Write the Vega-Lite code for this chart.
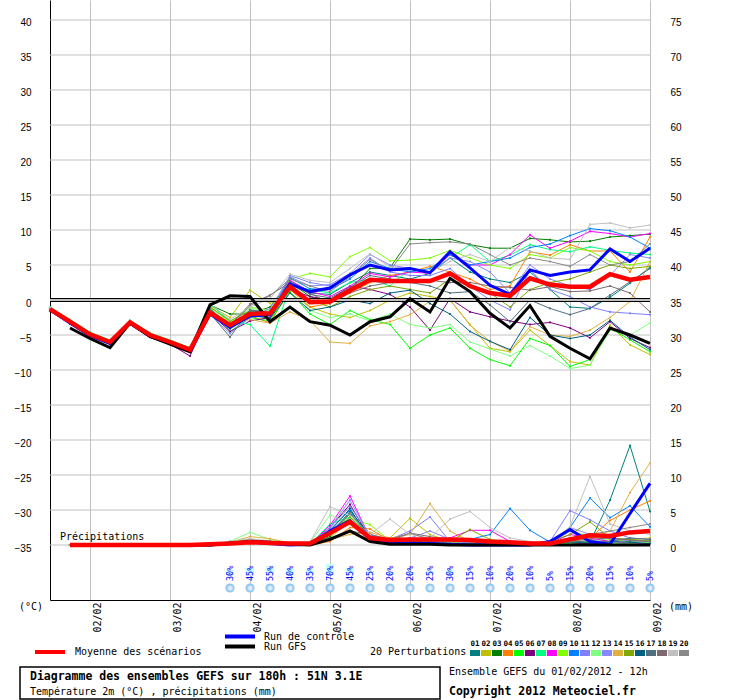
{
"$schema":"https://vega.github.io/schema/vega-lite/v6.json",
"width":600,"height":600,
"autosize":{"type":"none"},
"padding":{"left":50,"top":0,"right":90,"bottom":100},
"background":"white",
"config":{"view":{"stroke":null},"text":{"font":"DejaVu Sans Mono"}},
"datasets":{
"pert":[
{"s":"01","h":0,"t":-1.2,"p":null},{"s":"01","h":6,"t":-3.0,"p":0},{"s":"01","h":12,"t":-4.8,"p":0},{"s":"01","h":18,"t":-5.9,"p":0},{"s":"01","h":24,"t":-3.1,"p":0},{"s":"01","h":30,"t":-4.9,"p":0},{"s":"01","h":36,"t":-5.9,"p":0},{"s":"01","h":42,"t":-7.0,"p":0},{"s":"01","h":48,"t":-1.2,"p":0},{"s":"01","h":54,"t":-3.8,"p":0.3},{"s":"01","h":60,"t":-1.5,"p":0.5},{"s":"01","h":66,"t":-1.8,"p":0.3},{"s":"01","h":72,"t":2.8,"p":0.1},{"s":"01","h":78,"t":1.0,"p":0.2},{"s":"01","h":84,"t":0.8,"p":1.5},{"s":"01","h":90,"t":2.5,"p":4.8},{"s":"01","h":96,"t":4.0,"p":1.5},{"s":"01","h":102,"t":3.5,"p":0.5},{"s":"01","h":108,"t":3.0,"p":0.8},{"s":"01","h":114,"t":3.8,"p":0.5},{"s":"01","h":120,"t":6.0,"p":0.3},{"s":"01","h":126,"t":4.0,"p":0.2},{"s":"01","h":132,"t":3.0,"p":0.1},{"s":"01","h":138,"t":2.5,"p":0.1},{"s":"01","h":144,"t":4.0,"p":0.2},{"s":"01","h":150,"t":1.5,"p":0.3},{"s":"01","h":156,"t":-1.0,"p":0.5},{"s":"01","h":162,"t":-1.2,"p":0.4},{"s":"01","h":168,"t":0.4,"p":6.4},{"s":"01","h":174,"t":2.4,"p":14.2},{"s":"01","h":180,"t":4.7,"p":4.8},
{"s":"02","h":0,"t":-1.4,"p":null},{"s":"02","h":6,"t":-3.2,"p":0},{"s":"02","h":12,"t":-5.0,"p":0},{"s":"02","h":18,"t":-6.1,"p":0},{"s":"02","h":24,"t":-3.3,"p":0},{"s":"02","h":30,"t":-5.1,"p":0},{"s":"02","h":36,"t":-6.1,"p":0},{"s":"02","h":42,"t":-7.2,"p":0},{"s":"02","h":48,"t":-0.8,"p":0},{"s":"02","h":54,"t":-2.5,"p":0.4},{"s":"02","h":60,"t":1.4,"p":0.8},{"s":"02","h":66,"t":-0.5,"p":0.5},{"s":"02","h":72,"t":1.0,"p":0.2},{"s":"02","h":78,"t":-1.0,"p":0.1},{"s":"02","h":84,"t":-2.0,"p":1.0},{"s":"02","h":90,"t":-2.5,"p":3.5},{"s":"02","h":96,"t":-1.5,"p":0.8},{"s":"02","h":102,"t":0.0,"p":1.0},{"s":"02","h":108,"t":1.0,"p":3.8},{"s":"02","h":114,"t":0.5,"p":1.5},{"s":"02","h":120,"t":0.0,"p":0.5},{"s":"02","h":126,"t":-3.5,"p":0.3},{"s":"02","h":132,"t":-6.9,"p":0.2},{"s":"02","h":138,"t":-7.4,"p":0.0},{"s":"02","h":144,"t":-4.3,"p":0.1},{"s":"02","h":150,"t":-6.5,"p":0.2},{"s":"02","h":156,"t":-8.8,"p":0.5},{"s":"02","h":162,"t":-9.3,"p":0.3},{"s":"02","h":168,"t":-3.6,"p":0.5},{"s":"02","h":174,"t":-6.4,"p":0.8},{"s":"02","h":180,"t":-7.8,"p":1.0},
{"s":"03","h":0,"t":-1.1,"p":null},{"s":"03","h":6,"t":-2.9,"p":0},{"s":"03","h":12,"t":-4.7,"p":0},{"s":"03","h":18,"t":-5.8,"p":0},{"s":"03","h":24,"t":-3.0,"p":0},{"s":"03","h":30,"t":-4.8,"p":0},{"s":"03","h":36,"t":-5.8,"p":0},{"s":"03","h":42,"t":-6.9,"p":0},{"s":"03","h":48,"t":-0.7,"p":0},{"s":"03","h":54,"t":-2.0,"p":0.5},{"s":"03","h":60,"t":-2.0,"p":0.6},{"s":"03","h":66,"t":-1.0,"p":0.2},{"s":"03","h":72,"t":2.5,"p":0.0},{"s":"03","h":78,"t":0.5,"p":0.1},{"s":"03","h":84,"t":-0.5,"p":1.2},{"s":"03","h":90,"t":1.5,"p":4.5},{"s":"03","h":96,"t":4.5,"p":1.0},{"s":"03","h":102,"t":4.6,"p":0.3},{"s":"03","h":108,"t":8.7,"p":0.5},{"s":"03","h":114,"t":8.6,"p":0.4},{"s":"03","h":120,"t":8.7,"p":0.2},{"s":"03","h":126,"t":7.9,"p":0.1},{"s":"03","h":132,"t":7.4,"p":0.0},{"s":"03","h":138,"t":7.4,"p":0.0},{"s":"03","h":144,"t":8.8,"p":0.1},{"s":"03","h":150,"t":8.6,"p":0.1},{"s":"03","h":156,"t":8.3,"p":0.3},{"s":"03","h":162,"t":8.4,"p":0.2},{"s":"03","h":168,"t":9.0,"p":0.2},{"s":"03","h":174,"t":9.2,"p":0.5},{"s":"03","h":180,"t":9.4,"p":0.4},
{"s":"04","h":0,"t":-1.3,"p":null},{"s":"04","h":6,"t":-3.1,"p":0},{"s":"04","h":12,"t":-4.9,"p":0},{"s":"04","h":18,"t":-6.0,"p":0},{"s":"04","h":24,"t":-3.2,"p":0},{"s":"04","h":30,"t":-5.0,"p":0},{"s":"04","h":36,"t":-6.0,"p":0},{"s":"04","h":42,"t":-7.1,"p":0},{"s":"04","h":48,"t":-1.5,"p":0},{"s":"04","h":54,"t":-3.5,"p":0.3},{"s":"04","h":60,"t":-2.2,"p":0.8},{"s":"04","h":66,"t":-3.3,"p":0.4},{"s":"04","h":72,"t":1.5,"p":0.2},{"s":"04","h":78,"t":-1.0,"p":0.0},{"s":"04","h":84,"t":-0.5,"p":0.5},{"s":"04","h":90,"t":1.0,"p":2.5},{"s":"04","h":96,"t":2.5,"p":2.3},{"s":"04","h":102,"t":3.5,"p":0.6},{"s":"04","h":108,"t":4.0,"p":0.5},{"s":"04","h":114,"t":4.8,"p":0.3},{"s":"04","h":120,"t":4.0,"p":0.4},{"s":"04","h":126,"t":3.0,"p":0.2},{"s":"04","h":132,"t":1.5,"p":0.1},{"s":"04","h":138,"t":2.0,"p":0.0},{"s":"04","h":144,"t":6.9,"p":0.2},{"s":"04","h":150,"t":6.4,"p":0.5},{"s":"04","h":156,"t":7.9,"p":0.8},{"s":"04","h":162,"t":7.0,"p":1.0},{"s":"04","h":168,"t":7.0,"p":3.5},{"s":"04","h":174,"t":4.0,"p":5.0},{"s":"04","h":180,"t":9.0,"p":6.3},
{"s":"05","h":0,"t":-1.5,"p":null},{"s":"05","h":6,"t":-3.3,"p":0},{"s":"05","h":12,"t":-5.1,"p":0},{"s":"05","h":18,"t":-6.2,"p":0},{"s":"05","h":24,"t":-3.4,"p":0},{"s":"05","h":30,"t":-5.2,"p":0},{"s":"05","h":36,"t":-6.2,"p":0},{"s":"05","h":42,"t":-7.3,"p":0},{"s":"05","h":48,"t":-1.0,"p":0},{"s":"05","h":54,"t":-4.5,"p":0.2},{"s":"05","h":60,"t":-2.5,"p":0.5},{"s":"05","h":66,"t":-3.0,"p":0.3},{"s":"05","h":72,"t":1.2,"p":0.1},{"s":"05","h":78,"t":-2.0,"p":0.2},{"s":"05","h":84,"t":-3.5,"p":1.8},{"s":"05","h":90,"t":-1.5,"p":3.0},{"s":"05","h":96,"t":-2.8,"p":1.2},{"s":"05","h":102,"t":-3.5,"p":0.4},{"s":"05","h":108,"t":-6.9,"p":0.3},{"s":"05","h":114,"t":-5.0,"p":0.2},{"s":"05","h":120,"t":-4.0,"p":0.1},{"s":"05","h":126,"t":-6.9,"p":0.0},{"s":"05","h":132,"t":-8.5,"p":0.1},{"s":"05","h":138,"t":-9.4,"p":0.1},{"s":"05","h":144,"t":-5.5,"p":0.0},{"s":"05","h":150,"t":-6.5,"p":0.3},{"s":"05","h":156,"t":-9.5,"p":0.2},{"s":"05","h":162,"t":-8.5,"p":0.5},{"s":"05","h":168,"t":-4.0,"p":0.3},{"s":"05","h":174,"t":-5.7,"p":0.2},{"s":"05","h":180,"t":-7.4,"p":0.4},
{"s":"06","h":0,"t":-1.6,"p":null},{"s":"06","h":6,"t":-3.4,"p":0},{"s":"06","h":12,"t":-5.2,"p":0},{"s":"06","h":18,"t":-6.3,"p":0},{"s":"06","h":24,"t":-3.5,"p":0},{"s":"06","h":30,"t":-5.3,"p":0},{"s":"06","h":36,"t":-6.3,"p":0},{"s":"06","h":42,"t":-8.0,"p":0},{"s":"06","h":48,"t":-1.8,"p":0},{"s":"06","h":54,"t":-4.5,"p":0.1},{"s":"06","h":60,"t":-3.0,"p":0.3},{"s":"06","h":66,"t":-2.5,"p":0.2},{"s":"06","h":72,"t":1.5,"p":0.0},{"s":"06","h":78,"t":0.5,"p":0.0},{"s":"06","h":84,"t":0.0,"p":2.5},{"s":"06","h":90,"t":2.0,"p":5.8},{"s":"06","h":96,"t":1.5,"p":0.9},{"s":"06","h":102,"t":0.8,"p":0.4},{"s":"06","h":108,"t":-1.0,"p":0.2},{"s":"06","h":114,"t":-4.3,"p":0.3},{"s":"06","h":120,"t":0.2,"p":0.1},{"s":"06","h":126,"t":-1.7,"p":0.1},{"s":"06","h":132,"t":-2.4,"p":0.0},{"s":"06","h":138,"t":-3.0,"p":0.0},{"s":"06","h":144,"t":-3.5,"p":0.1},{"s":"06","h":150,"t":-3.2,"p":0.4},{"s":"06","h":156,"t":-4.0,"p":0.3},{"s":"06","h":162,"t":-5.4,"p":0.2},{"s":"06","h":168,"t":-3.1,"p":0.1},{"s":"06","h":174,"t":-5.5,"p":0.3},{"s":"06","h":180,"t":-6.8,"p":0.5},
{"s":"07","h":0,"t":-1.0,"p":null},{"s":"07","h":6,"t":-2.8,"p":0},{"s":"07","h":12,"t":-4.6,"p":0},{"s":"07","h":18,"t":-5.7,"p":0},{"s":"07","h":24,"t":-2.9,"p":0},{"s":"07","h":30,"t":-4.7,"p":0},{"s":"07","h":36,"t":-5.7,"p":0},{"s":"07","h":42,"t":-6.8,"p":0},{"s":"07","h":48,"t":-0.6,"p":0},{"s":"07","h":54,"t":-3.0,"p":0.2},{"s":"07","h":60,"t":-3.5,"p":0.4},{"s":"07","h":66,"t":-6.6,"p":0.3},{"s":"07","h":72,"t":2.0,"p":0.1},{"s":"07","h":78,"t":1.5,"p":0.1},{"s":"07","h":84,"t":1.0,"p":3.0},{"s":"07","h":90,"t":2.5,"p":4.0},{"s":"07","h":96,"t":3.0,"p":1.3},{"s":"07","h":102,"t":2.0,"p":0.5},{"s":"07","h":108,"t":4.5,"p":0.4},{"s":"07","h":114,"t":4.0,"p":0.2},{"s":"07","h":120,"t":6.0,"p":0.2},{"s":"07","h":126,"t":7.9,"p":0.1},{"s":"07","h":132,"t":5.5,"p":0.0},{"s":"07","h":138,"t":6.4,"p":0.0},{"s":"07","h":144,"t":7.9,"p":0.1},{"s":"07","h":150,"t":7.2,"p":0.2},{"s":"07","h":156,"t":6.9,"p":0.4},{"s":"07","h":162,"t":7.6,"p":1.5},{"s":"07","h":168,"t":7.1,"p":0.4},{"s":"07","h":174,"t":6.7,"p":0.3},{"s":"07","h":180,"t":6.5,"p":0.2},
{"s":"08","h":0,"t":-1.4,"p":null},{"s":"08","h":6,"t":-3.2,"p":0},{"s":"08","h":12,"t":-5.0,"p":0},{"s":"08","h":18,"t":-6.1,"p":0},{"s":"08","h":24,"t":-3.3,"p":0},{"s":"08","h":30,"t":-5.1,"p":0},{"s":"08","h":36,"t":-6.1,"p":0},{"s":"08","h":42,"t":-7.2,"p":0},{"s":"08","h":48,"t":-1.4,"p":0},{"s":"08","h":54,"t":-4.0,"p":0.3},{"s":"08","h":60,"t":-1.8,"p":0.5},{"s":"08","h":66,"t":-2.2,"p":0.4},{"s":"08","h":72,"t":2.8,"p":0.0},{"s":"08","h":78,"t":1.2,"p":0.1},{"s":"08","h":84,"t":0.5,"p":2.8},{"s":"08","h":90,"t":2.0,"p":7.0},{"s":"08","h":96,"t":3.8,"p":1.0},{"s":"08","h":102,"t":3.3,"p":0.5},{"s":"08","h":108,"t":4.0,"p":0.4},{"s":"08","h":114,"t":3.8,"p":0.3},{"s":"08","h":120,"t":6.5,"p":1.0},{"s":"08","h":126,"t":5.0,"p":2.1},{"s":"08","h":132,"t":5.0,"p":2.1},{"s":"08","h":138,"t":6.5,"p":0.5},{"s":"08","h":144,"t":9.3,"p":0.2},{"s":"08","h":150,"t":7.4,"p":0.3},{"s":"08","h":156,"t":8.4,"p":1.5},{"s":"08","h":162,"t":9.8,"p":1.0},{"s":"08","h":168,"t":9.5,"p":0.5},{"s":"08","h":174,"t":9.0,"p":0.3},{"s":"08","h":180,"t":9.5,"p":0.2},
{"s":"09","h":0,"t":-1.2,"p":null},{"s":"09","h":6,"t":-3.0,"p":0},{"s":"09","h":12,"t":-4.8,"p":0},{"s":"09","h":18,"t":-5.9,"p":0},{"s":"09","h":24,"t":-3.1,"p":0},{"s":"09","h":30,"t":-4.9,"p":0},{"s":"09","h":36,"t":-5.9,"p":0},{"s":"09","h":42,"t":-7.0,"p":0},{"s":"09","h":48,"t":-0.9,"p":0},{"s":"09","h":54,"t":-3.2,"p":0.4},{"s":"09","h":60,"t":-1.0,"p":0.7},{"s":"09","h":66,"t":-1.5,"p":0.3},{"s":"09","h":72,"t":3.0,"p":0.1},{"s":"09","h":78,"t":3.8,"p":0.2},{"s":"09","h":84,"t":3.3,"p":2.0},{"s":"09","h":90,"t":6.2,"p":3.8},{"s":"09","h":96,"t":7.5,"p":2.9},{"s":"09","h":102,"t":5.6,"p":0.6},{"s":"09","h":108,"t":5.7,"p":0.5},{"s":"09","h":114,"t":6.0,"p":0.3},{"s":"09","h":120,"t":7.1,"p":0.2},{"s":"09","h":126,"t":6.0,"p":0.4},{"s":"09","h":132,"t":5.0,"p":0.3},{"s":"09","h":138,"t":4.5,"p":0.1},{"s":"09","h":144,"t":6.5,"p":0.3},{"s":"09","h":150,"t":6.0,"p":0.4},{"s":"09","h":156,"t":7.5,"p":2.0},{"s":"09","h":162,"t":7.0,"p":1.2},{"s":"09","h":168,"t":5.5,"p":0.8},{"s":"09","h":174,"t":5.0,"p":0.6},{"s":"09","h":180,"t":5.5,"p":0.5},
{"s":"10","h":0,"t":-1.3,"p":null},{"s":"10","h":6,"t":-3.1,"p":0},{"s":"10","h":12,"t":-4.9,"p":0},{"s":"10","h":18,"t":-6.0,"p":0},{"s":"10","h":24,"t":-3.2,"p":0},{"s":"10","h":30,"t":-5.0,"p":0},{"s":"10","h":36,"t":-6.0,"p":0},{"s":"10","h":42,"t":-7.1,"p":0},{"s":"10","h":48,"t":-1.3,"p":0},{"s":"10","h":54,"t":-3.7,"p":0.2},{"s":"10","h":60,"t":-1.6,"p":0.4},{"s":"10","h":66,"t":-1.9,"p":0.3},{"s":"10","h":72,"t":3.2,"p":0.0},{"s":"10","h":78,"t":1.6,"p":0.1},{"s":"10","h":84,"t":1.5,"p":2.2},{"s":"10","h":90,"t":3.0,"p":5.0},{"s":"10","h":96,"t":5.5,"p":1.1},{"s":"10","h":102,"t":4.5,"p":0.4},{"s":"10","h":108,"t":4.0,"p":0.6},{"s":"10","h":114,"t":4.5,"p":0.3},{"s":"10","h":120,"t":6.5,"p":0.5},{"s":"10","h":126,"t":5.0,"p":0.8},{"s":"10","h":132,"t":5.5,"p":1.5},{"s":"10","h":138,"t":6.0,"p":5.2},{"s":"10","h":144,"t":7.5,"p":2.1},{"s":"10","h":150,"t":8.0,"p":0.4},{"s":"10","h":156,"t":9.2,"p":2.5},{"s":"10","h":162,"t":10.2,"p":6.7},{"s":"10","h":168,"t":9.9,"p":3.9},{"s":"10","h":174,"t":9.0,"p":5.6},{"s":"10","h":180,"t":7.4,"p":2.6},
{"s":"11","h":0,"t":-1.5,"p":null},{"s":"11","h":6,"t":-3.3,"p":0},{"s":"11","h":12,"t":-5.1,"p":0},{"s":"11","h":18,"t":-6.2,"p":0},{"s":"11","h":24,"t":-3.4,"p":0},{"s":"11","h":30,"t":-5.2,"p":0},{"s":"11","h":36,"t":-6.2,"p":0},{"s":"11","h":42,"t":-7.3,"p":0},{"s":"11","h":48,"t":-1.6,"p":0},{"s":"11","h":54,"t":-4.2,"p":0.3},{"s":"11","h":60,"t":-2.0,"p":0.6},{"s":"11","h":66,"t":-2.0,"p":0.5},{"s":"11","h":72,"t":3.5,"p":0.1},{"s":"11","h":78,"t":2.5,"p":0.2},{"s":"11","h":84,"t":2.0,"p":2.5},{"s":"11","h":90,"t":3.5,"p":5.5},{"s":"11","h":96,"t":6.0,"p":1.5},{"s":"11","h":102,"t":4.0,"p":0.8},{"s":"11","h":108,"t":3.5,"p":2.0},{"s":"11","h":114,"t":3.5,"p":4.0},{"s":"11","h":120,"t":4.5,"p":0.5},{"s":"11","h":126,"t":2.0,"p":0.3},{"s":"11","h":132,"t":0.0,"p":0.2},{"s":"11","h":138,"t":-1.4,"p":0.1},{"s":"11","h":144,"t":4.3,"p":0.2},{"s":"11","h":150,"t":1.5,"p":0.5},{"s":"11","h":156,"t":0.5,"p":4.9},{"s":"11","h":162,"t":-1.0,"p":3.6},{"s":"11","h":168,"t":-1.7,"p":2.0},{"s":"11","h":174,"t":-1.9,"p":1.0},{"s":"11","h":180,"t":-2.1,"p":0.8},
{"s":"12","h":0,"t":-1.1,"p":null},{"s":"12","h":6,"t":-2.9,"p":0},{"s":"12","h":12,"t":-4.7,"p":0},{"s":"12","h":18,"t":-5.8,"p":0},{"s":"12","h":24,"t":-3.0,"p":0},{"s":"12","h":30,"t":-4.8,"p":0},{"s":"12","h":36,"t":-5.8,"p":0},{"s":"12","h":42,"t":-6.9,"p":0},{"s":"12","h":48,"t":-1.1,"p":0},{"s":"12","h":54,"t":-3.3,"p":0.5},{"s":"12","h":60,"t":-1.2,"p":1.8},{"s":"12","h":66,"t":-1.5,"p":0.8},{"s":"12","h":72,"t":2.2,"p":0.1},{"s":"12","h":78,"t":-1.5,"p":0.3},{"s":"12","h":84,"t":-2.5,"p":4.3},{"s":"12","h":90,"t":-2.0,"p":3.0},{"s":"12","h":96,"t":-3.0,"p":1.0},{"s":"12","h":102,"t":-2.0,"p":0.3},{"s":"12","h":108,"t":-3.5,"p":0.4},{"s":"12","h":114,"t":-4.0,"p":0.2},{"s":"12","h":120,"t":-3.5,"p":0.3},{"s":"12","h":126,"t":-6.0,"p":0.1},{"s":"12","h":132,"t":-7.0,"p":0.0},{"s":"12","h":138,"t":-8.0,"p":0.0},{"s":"12","h":144,"t":-6.5,"p":0.1},{"s":"12","h":150,"t":-8.0,"p":0.2},{"s":"12","h":156,"t":-9.8,"p":0.3},{"s":"12","h":162,"t":-9.3,"p":0.5},{"s":"12","h":168,"t":-4.3,"p":0.2},{"s":"12","h":174,"t":-5.0,"p":0.3},{"s":"12","h":180,"t":-3.3,"p":0.4},
{"s":"13","h":0,"t":-1.4,"p":null},{"s":"13","h":6,"t":-3.2,"p":0},{"s":"13","h":12,"t":-5.0,"p":0},{"s":"13","h":18,"t":-6.1,"p":0},{"s":"13","h":24,"t":-3.3,"p":0},{"s":"13","h":30,"t":-5.1,"p":0},{"s":"13","h":36,"t":-6.1,"p":0},{"s":"13","h":42,"t":-7.2,"p":0},{"s":"13","h":48,"t":-2.0,"p":0},{"s":"13","h":54,"t":-4.8,"p":0.2},{"s":"13","h":60,"t":-2.5,"p":0.5},{"s":"13","h":66,"t":-1.2,"p":0.4},{"s":"13","h":72,"t":3.3,"p":0.0},{"s":"13","h":78,"t":2.0,"p":0.1},{"s":"13","h":84,"t":2.2,"p":2.5},{"s":"13","h":90,"t":3.8,"p":6.4},{"s":"13","h":96,"t":6.5,"p":1.2},{"s":"13","h":102,"t":5.0,"p":0.5},{"s":"13","h":108,"t":4.5,"p":1.0},{"s":"13","h":114,"t":4.0,"p":2.0},{"s":"13","h":120,"t":6.0,"p":0.8},{"s":"13","h":126,"t":5.5,"p":0.4},{"s":"13","h":132,"t":4.0,"p":0.3},{"s":"13","h":138,"t":1.0,"p":0.2},{"s":"13","h":144,"t":5.0,"p":0.2},{"s":"13","h":150,"t":3.0,"p":0.4},{"s":"13","h":156,"t":2.0,"p":2.5},{"s":"13","h":162,"t":1.5,"p":1.5},{"s":"13","h":168,"t":3.5,"p":0.9},{"s":"13","h":174,"t":6.5,"p":0.6},{"s":"13","h":180,"t":6.0,"p":0.5},
{"s":"14","h":0,"t":-1.2,"p":null},{"s":"14","h":6,"t":-3.0,"p":0},{"s":"14","h":12,"t":-4.8,"p":0},{"s":"14","h":18,"t":-5.9,"p":0},{"s":"14","h":24,"t":-3.1,"p":0},{"s":"14","h":30,"t":-4.9,"p":0},{"s":"14","h":36,"t":-5.9,"p":0},{"s":"14","h":42,"t":-7.0,"p":0},{"s":"14","h":48,"t":-2.2,"p":0},{"s":"14","h":54,"t":-3.4,"p":0.4},{"s":"14","h":60,"t":-2.8,"p":1.2},{"s":"14","h":66,"t":-3.3,"p":0.9},{"s":"14","h":72,"t":-1.7,"p":0.3},{"s":"14","h":78,"t":-2.9,"p":0.1},{"s":"14","h":84,"t":-6.0,"p":0.8},{"s":"14","h":90,"t":-6.2,"p":1.5},{"s":"14","h":96,"t":-3.7,"p":1.8},{"s":"14","h":102,"t":-3.1,"p":1.0},{"s":"14","h":108,"t":-2.1,"p":1.5},{"s":"14","h":114,"t":-0.2,"p":5.9},{"s":"14","h":120,"t":0.0,"p":2.0},{"s":"14","h":126,"t":-3.6,"p":0.5},{"s":"14","h":132,"t":-5.9,"p":0.3},{"s":"14","h":138,"t":-7.3,"p":0.2},{"s":"14","h":144,"t":-3.8,"p":0.1},{"s":"14","h":150,"t":-5.0,"p":0.2},{"s":"14","h":156,"t":-5.2,"p":0.5},{"s":"14","h":162,"t":-4.3,"p":1.0},{"s":"14","h":168,"t":-2.5,"p":2.0},{"s":"14","h":174,"t":-0.2,"p":7.5},{"s":"14","h":180,"t":5.5,"p":11.7},
{"s":"15","h":0,"t":-1.3,"p":null},{"s":"15","h":6,"t":-3.1,"p":0},{"s":"15","h":12,"t":-4.9,"p":0},{"s":"15","h":18,"t":-6.0,"p":0},{"s":"15","h":24,"t":-3.2,"p":0},{"s":"15","h":30,"t":-5.0,"p":0},{"s":"15","h":36,"t":-6.0,"p":0},{"s":"15","h":42,"t":-7.1,"p":0},{"s":"15","h":48,"t":-1.0,"p":0},{"s":"15","h":54,"t":-3.0,"p":0.3},{"s":"15","h":60,"t":-1.5,"p":0.5},{"s":"15","h":66,"t":-2.8,"p":0.3},{"s":"15","h":72,"t":2.0,"p":0.1},{"s":"15","h":78,"t":0.0,"p":0.1},{"s":"15","h":84,"t":-1.0,"p":1.5},{"s":"15","h":90,"t":0.5,"p":4.0},{"s":"15","h":96,"t":1.5,"p":1.0},{"s":"15","h":102,"t":2.0,"p":0.4},{"s":"15","h":108,"t":1.5,"p":0.5},{"s":"15","h":114,"t":1.0,"p":0.3},{"s":"15","h":120,"t":3.0,"p":0.5},{"s":"15","h":126,"t":2.0,"p":2.2},{"s":"15","h":132,"t":1.0,"p":0.8},{"s":"15","h":138,"t":-1.0,"p":0.3},{"s":"15","h":144,"t":1.5,"p":0.2},{"s":"15","h":150,"t":2.5,"p":0.5},{"s":"15","h":156,"t":3.0,"p":1.5},{"s":"15","h":162,"t":4.0,"p":3.3},{"s":"15","h":168,"t":5.0,"p":1.0},{"s":"15","h":174,"t":4.5,"p":0.8},{"s":"15","h":180,"t":4.8,"p":0.6},
{"s":"16","h":0,"t":-1.5,"p":null},{"s":"16","h":6,"t":-3.3,"p":0},{"s":"16","h":12,"t":-5.1,"p":0},{"s":"16","h":18,"t":-6.2,"p":0},{"s":"16","h":24,"t":-3.4,"p":0},{"s":"16","h":30,"t":-5.2,"p":0},{"s":"16","h":36,"t":-6.2,"p":0},{"s":"16","h":42,"t":-7.3,"p":0},{"s":"16","h":48,"t":-1.7,"p":0},{"s":"16","h":54,"t":-4.0,"p":0.2},{"s":"16","h":60,"t":-2.2,"p":0.4},{"s":"16","h":66,"t":-2.6,"p":0.2},{"s":"16","h":72,"t":1.0,"p":0.0},{"s":"16","h":78,"t":-1.5,"p":0.1},{"s":"16","h":84,"t":-1.0,"p":2.0},{"s":"16","h":90,"t":0.0,"p":5.2},{"s":"16","h":96,"t":-0.5,"p":0.8},{"s":"16","h":102,"t":1.0,"p":0.3},{"s":"16","h":108,"t":1.4,"p":0.3},{"s":"16","h":114,"t":-0.5,"p":0.2},{"s":"16","h":120,"t":-2.0,"p":0.1},{"s":"16","h":126,"t":-4.5,"p":0.1},{"s":"16","h":132,"t":-5.9,"p":0.0},{"s":"16","h":138,"t":-7.1,"p":0.1},{"s":"16","h":144,"t":-2.5,"p":0.0},{"s":"16","h":150,"t":-5.0,"p":0.2},{"s":"16","h":156,"t":-5.5,"p":0.4},{"s":"16","h":162,"t":-5.0,"p":0.3},{"s":"16","h":168,"t":-2.9,"p":0.5},{"s":"16","h":174,"t":-5.3,"p":0.4},{"s":"16","h":180,"t":-7.1,"p":0.2},
{"s":"17","h":0,"t":-1.6,"p":null},{"s":"17","h":6,"t":-3.4,"p":0},{"s":"17","h":12,"t":-5.2,"p":0},{"s":"17","h":18,"t":-6.3,"p":0},{"s":"17","h":24,"t":-3.5,"p":0},{"s":"17","h":30,"t":-5.3,"p":0},{"s":"17","h":36,"t":-6.3,"p":0},{"s":"17","h":42,"t":-7.4,"p":0},{"s":"17","h":48,"t":-1.9,"p":0},{"s":"17","h":54,"t":-5.3,"p":0.3},{"s":"17","h":60,"t":-1.4,"p":0.6},{"s":"17","h":66,"t":-1.8,"p":0.4},{"s":"17","h":72,"t":2.6,"p":0.1},{"s":"17","h":78,"t":0.8,"p":0.1},{"s":"17","h":84,"t":0.3,"p":1.8},{"s":"17","h":90,"t":1.8,"p":4.6},{"s":"17","h":96,"t":3.5,"p":1.1},{"s":"17","h":102,"t":3.0,"p":0.5},{"s":"17","h":108,"t":2.5,"p":0.4},{"s":"17","h":114,"t":2.0,"p":0.3},{"s":"17","h":120,"t":1.0,"p":0.2},{"s":"17","h":126,"t":1.2,"p":0.1},{"s":"17","h":132,"t":-0.7,"p":0.1},{"s":"17","h":138,"t":-3.1,"p":0.0},{"s":"17","h":144,"t":0.0,"p":0.1},{"s":"17","h":150,"t":-1.2,"p":0.3},{"s":"17","h":156,"t":-2.1,"p":0.4},{"s":"17","h":162,"t":-1.2,"p":0.6},{"s":"17","h":168,"t":0.7,"p":0.5},{"s":"17","h":174,"t":2.6,"p":1.0},{"s":"17","h":180,"t":4.5,"p":0.8},
{"s":"18","h":0,"t":-1.2,"p":null},{"s":"18","h":6,"t":-3.0,"p":0},{"s":"18","h":12,"t":-4.8,"p":0},{"s":"18","h":18,"t":-5.9,"p":0},{"s":"18","h":24,"t":-3.1,"p":0},{"s":"18","h":30,"t":-4.9,"p":0},{"s":"18","h":36,"t":-5.9,"p":0},{"s":"18","h":42,"t":-7.0,"p":0},{"s":"18","h":48,"t":-1.3,"p":0},{"s":"18","h":54,"t":-3.6,"p":0.4},{"s":"18","h":60,"t":-0.6,"p":0.8},{"s":"18","h":66,"t":0.7,"p":0.5},{"s":"18","h":72,"t":2.5,"p":0.1},{"s":"18","h":78,"t":1.0,"p":0.2},{"s":"18","h":84,"t":-0.5,"p":1.0},{"s":"18","h":90,"t":1.0,"p":2.0},{"s":"18","h":96,"t":2.0,"p":1.5},{"s":"18","h":102,"t":2.5,"p":0.8},{"s":"18","h":108,"t":3.0,"p":1.7},{"s":"18","h":114,"t":2.8,"p":1.2},{"s":"18","h":120,"t":2.5,"p":0.8},{"s":"18","h":126,"t":2.5,"p":0.6},{"s":"18","h":132,"t":2.0,"p":0.5},{"s":"18","h":138,"t":1.8,"p":0.3},{"s":"18","h":144,"t":1.4,"p":0.2},{"s":"18","h":150,"t":1.9,"p":0.3},{"s":"18","h":156,"t":1.2,"p":0.6},{"s":"18","h":162,"t":1.3,"p":0.8},{"s":"18","h":168,"t":2.0,"p":1.0},{"s":"18","h":174,"t":1.0,"p":0.7},{"s":"18","h":180,"t":-1.7,"p":0.5},
{"s":"19","h":0,"t":-1.1,"p":null},{"s":"19","h":6,"t":-2.9,"p":0},{"s":"19","h":12,"t":-4.7,"p":0},{"s":"19","h":18,"t":-5.8,"p":0},{"s":"19","h":24,"t":-3.0,"p":0},{"s":"19","h":30,"t":-4.8,"p":0},{"s":"19","h":36,"t":-5.8,"p":0},{"s":"19","h":42,"t":-6.9,"p":0},{"s":"19","h":48,"t":-0.5,"p":0},{"s":"19","h":54,"t":-2.8,"p":0.5},{"s":"19","h":60,"t":-1.0,"p":0.9},{"s":"19","h":66,"t":0.2,"p":0.6},{"s":"19","h":72,"t":3.7,"p":0.2},{"s":"19","h":78,"t":2.8,"p":0.4},{"s":"19","h":84,"t":2.5,"p":5.5},{"s":"19","h":90,"t":4.5,"p":4.2},{"s":"19","h":96,"t":6.6,"p":1.5},{"s":"19","h":102,"t":4.7,"p":3.7},{"s":"19","h":108,"t":4.5,"p":1.5},{"s":"19","h":114,"t":4.0,"p":1.0},{"s":"19","h":120,"t":5.5,"p":3.7},{"s":"19","h":126,"t":6.5,"p":4.8},{"s":"19","h":132,"t":5.5,"p":2.5},{"s":"19","h":138,"t":7.5,"p":1.0},{"s":"19","h":144,"t":7.0,"p":0.5},{"s":"19","h":150,"t":6.0,"p":0.3},{"s":"19","h":156,"t":5.8,"p":2.6},{"s":"19","h":162,"t":10.8,"p":9.8},{"s":"19","h":168,"t":11.0,"p":3.0},{"s":"19","h":174,"t":10.3,"p":2.0},{"s":"19","h":180,"t":10.7,"p":1.5},
{"s":"20","h":0,"t":-1.4,"p":null},{"s":"20","h":6,"t":-3.2,"p":0},{"s":"20","h":12,"t":-5.0,"p":0},{"s":"20","h":18,"t":-6.1,"p":0},{"s":"20","h":24,"t":-3.3,"p":0},{"s":"20","h":30,"t":-5.1,"p":0},{"s":"20","h":36,"t":-6.1,"p":0},{"s":"20","h":42,"t":-7.2,"p":0},{"s":"20","h":48,"t":-1.5,"p":0},{"s":"20","h":54,"t":-3.9,"p":0.3},{"s":"20","h":60,"t":-0.8,"p":0.6},{"s":"20","h":66,"t":0.6,"p":0.4},{"s":"20","h":72,"t":3.0,"p":0.1},{"s":"20","h":78,"t":2.0,"p":0.1},{"s":"20","h":84,"t":1.2,"p":1.5},{"s":"20","h":90,"t":3.3,"p":4.5},{"s":"20","h":96,"t":5.8,"p":1.3},{"s":"20","h":102,"t":4.2,"p":0.5},{"s":"20","h":108,"t":8.0,"p":1.7},{"s":"20","h":114,"t":8.2,"p":0.8},{"s":"20","h":120,"t":8.3,"p":0.6},{"s":"20","h":126,"t":8.0,"p":0.4},{"s":"20","h":132,"t":6.5,"p":0.3},{"s":"20","h":138,"t":5.0,"p":0.2},{"s":"20","h":144,"t":6.0,"p":0.1},{"s":"20","h":150,"t":5.5,"p":0.4},{"s":"20","h":156,"t":4.8,"p":1.0},{"s":"20","h":162,"t":6.5,"p":1.5},{"s":"20","h":168,"t":5.0,"p":2.0},{"s":"20","h":174,"t":5.5,"p":2.5},{"s":"20","h":180,"t":8.0,"p":3.0}
],
"ctrl":[
{"h":0,"t":-1.4,"p":null},{"h":6,"t":-3.3,"p":0},{"h":12,"t":-5.1,"p":0},{"h":18,"t":-6.2,"p":0},{"h":24,"t":-3.3,"p":0},{"h":30,"t":-5.2,"p":0},{"h":36,"t":-6.2,"p":0},{"h":42,"t":-7.3,"p":0},{"h":48,"t":-2.0,"p":0},{"h":54,"t":-3.9,"p":0.3},{"h":60,"t":-2.3,"p":0.4},{"h":66,"t":-2.1,"p":0.2},{"h":72,"t":2.3,"p":0.0},{"h":78,"t":1.2,"p":0.1},{"h":84,"t":1.7,"p":2.0},{"h":90,"t":3.6,"p":3.5},{"h":96,"t":5.0,"p":0.8},{"h":102,"t":4.3,"p":0.2},{"h":108,"t":4.5,"p":0.3},{"h":114,"t":3.9,"p":0.2},{"h":120,"t":6.9,"p":0.1},{"h":126,"t":4.6,"p":0.0},{"h":132,"t":2.1,"p":0.0},{"h":138,"t":0.8,"p":0.0},{"h":144,"t":4.3,"p":0.0},{"h":150,"t":3.5,"p":0.5},{"h":156,"t":4.0,"p":2.2},{"h":162,"t":4.3,"p":0.5},{"h":168,"t":7.3,"p":0.1},{"h":174,"t":5.5,"p":4.5},{"h":180,"t":7.4,"p":8.8}
],
"gfs":[
{"h":6,"t":-4.0,"p":0},{"h":12,"t":-5.5,"p":0},{"h":18,"t":-6.8,"p":0},{"h":24,"t":-3.3,"p":0},{"h":30,"t":-5.2,"p":0},{"h":36,"t":-6.3,"p":0},{"h":42,"t":-7.4,"p":0},{"h":48,"t":-0.7,"p":0},{"h":54,"t":0.6,"p":0.2},{"h":60,"t":0.5,"p":0.5},{"h":66,"t":-3.1,"p":0.4},{"h":72,"t":-1.0,"p":0.1},{"h":78,"t":-3.1,"p":0.0},{"h":84,"t":-3.6,"p":0.8},{"h":90,"t":-5.0,"p":2.0},{"h":96,"t":-3.1,"p":0.5},{"h":102,"t":-2.4,"p":0.1},{"h":108,"t":0.2,"p":0.1},{"h":114,"t":-1.7,"p":0.1},{"h":120,"t":3.1,"p":0.0},{"h":126,"t":1.2,"p":0.0},{"h":132,"t":-1.9,"p":0.0},{"h":138,"t":-4.0,"p":0.0},{"h":144,"t":-0.8,"p":0.0},{"h":150,"t":-5.2,"p":0.0},{"h":156,"t":-6.9,"p":0.0},{"h":162,"t":-8.4,"p":0.0},{"h":168,"t":-4.0,"p":0.0},{"h":174,"t":-5.0,"p":0.0},{"h":180,"t":-6.2,"p":0.0}
],
"mean":[
{"h":0,"t":-1.3,"p":null},{"h":6,"t":-3.1,"p":0},{"h":12,"t":-4.9,"p":0},{"h":18,"t":-6.0,"p":0},{"h":24,"t":-3.2,"p":0},{"h":30,"t":-5.0,"p":0},{"h":36,"t":-6.0,"p":0},{"h":42,"t":-7.1,"p":0},{"h":48,"t":-1.8,"p":0.1},{"h":54,"t":-3.6,"p":0.2},{"h":60,"t":-2.0,"p":0.4},{"h":66,"t":-1.9,"p":0.3},{"h":72,"t":1.9,"p":0.2},{"h":78,"t":-0.3,"p":0.2},{"h":84,"t":-0.2,"p":1.7},{"h":90,"t":1.4,"p":3.3},{"h":96,"t":2.9,"p":1.0},{"h":102,"t":2.7,"p":0.7},{"h":108,"t":2.7,"p":0.8},{"h":114,"t":2.7,"p":0.8},{"h":120,"t":3.8,"p":0.8},{"h":126,"t":2.0,"p":0.7},{"h":132,"t":1.0,"p":0.5},{"h":138,"t":0.6,"p":0.4},{"h":144,"t":3.1,"p":0.2},{"h":150,"t":2.2,"p":0.2},{"h":156,"t":1.9,"p":0.8},{"h":162,"t":1.9,"p":1.4},{"h":168,"t":3.7,"p":1.3},{"h":174,"t":2.9,"p":1.8},{"h":180,"t":3.3,"p":2.0}
],
"snow":[
{"h":54,"f":0.30},{"h":60,"f":0.45},{"h":66,"f":0.55},{"h":72,"f":0.40},{"h":78,"f":0.35},{"h":84,"f":0.70},{"h":90,"f":0.45},{"h":96,"f":0.25},{"h":102,"f":0.20},{"h":108,"f":0.20},{"h":114,"f":0.25},{"h":120,"f":0.30},{"h":126,"f":0.15},{"h":132,"f":0.10},{"h":138,"f":0.20},{"h":144,"f":0.10},{"h":150,"f":0.05},{"h":156,"f":0.15},{"h":162,"f":0.20},{"h":168,"f":0.15},{"h":174,"f":0.10},{"h":180,"f":0.05}
],
"grid":[{"g":-35},{"g":-30},{"g":-25},{"g":-20},{"g":-15},{"g":-10},{"g":-5},{"g":0},{"g":5},{"g":10},{"g":15},{"g":20},{"g":25},{"g":30},{"g":35},{"g":40}]
},
"layer":[
{"data":{"name":"grid"},"mark":{"type":"rule","color":"#c0c0c0","strokeWidth":1},"encoding":{"y":{"field":"g","type":"quantitative","scale":{"domain":[-42.857,42.857],"nice":false,"zero":false},"axis":null}}},
{"data":{"name":"pert"},"mark":{"type":"line","strokeWidth":1,"point":{"filled":true,"size":5}},
 "encoding":{
  "x":{"field":"h","type":"quantitative","scale":{"domain":[0,180],"nice":false,"zero":false,"padding":0},
   "axis":{"values":[12,36,60,84,108,132,156,180],"labelExpr":"['02/02','03/02','04/02','05/02','06/02','07/02','08/02','09/02'][(datum.value-12)/24]","grid":true,"gridColor":"#c0c0c0","gridWidth":1,"ticks":false,"domainColor":"#000000","domainWidth":1,"labelAngle":270,"labelFont":"DejaVu Sans Mono","labelFontSize":10,"labelColor":"#000000","labelPadding":2,"labelOffset":7,"labelFlush":false,"labelOverlap":false,"title":null}},
  "y":{"field":"t","type":"quantitative","scale":{"domain":[-42.857,42.857],"nice":false,"zero":false},
   "axis":{"values":[-35,-30,-25,-20,-15,-10,-5,0,5,10,15,20,25,30,35,40],"grid":false,"ticks":false,"domainColor":"#000000","domainWidth":1,"labelFont":"Liberation Sans","labelFontSize":10,"labelColor":"#000000","labelPadding":19,"labelOffset":3,"labelOverlap":false,"labelFlush":false,"title":null}},
  "color":{"field":"s","type":"nominal","scale":{"domain":["01","02","03","04","05","06","07","08","09","10","11","12","13","14","15","16","17","18","19","20"],"range":["#008080","#c0c000","#008000","#ff8000","#00ff00","#800080","#00ff80","#ff00ff","#80ff00","#0080ff","#8080ff","#80ff80","#8888ff","#e0b040","#80a800","#006080","#507080","#806870","#c0c0c0","#888888"]},"legend":null}
 }},
{"data":{"values":[{}]},"mark":{"type":"rule","color":"#000000","strokeWidth":4},"encoding":{"y":{"datum":0,"type":"quantitative","scale":{"domain":[-42.857,42.857],"nice":false,"zero":false},"axis":null}}},
{"data":{"values":[{}]},"mark":{"type":"rule","color":"#ffffff","strokeWidth":1.6},"encoding":{"y":{"datum":0,"type":"quantitative","scale":{"domain":[-42.857,42.857],"nice":false,"zero":false},"axis":null}}},
{"data":{"name":"ctrl"},"mark":{"type":"line","strokeWidth":3,"color":"#0000ff"},"encoding":{"x":{"field":"h","type":"quantitative"},"y":{"field":"t","type":"quantitative","scale":{"domain":[-42.857,42.857],"nice":false,"zero":false},"axis":null}}},
{"data":{"name":"gfs"},"mark":{"type":"line","strokeWidth":3,"color":"#000000"},"encoding":{"x":{"field":"h","type":"quantitative"},"y":{"field":"t","type":"quantitative","scale":{"domain":[-42.857,42.857],"nice":false,"zero":false},"axis":null}}},
{"data":{"name":"mean"},"mark":{"type":"line","strokeWidth":4.5,"color":"#ff0000"},"encoding":{"x":{"field":"h","type":"quantitative"},"y":{"field":"t","type":"quantitative","scale":{"domain":[-42.857,42.857],"nice":false,"zero":false},"axis":null}}},
{"data":{"name":"pert"},"mark":{"type":"line","strokeWidth":1,"point":{"filled":true,"size":5}},
 "encoding":{
  "x":{"field":"h","type":"quantitative"},
  "y":{"field":"p","type":"quantitative","scale":{"domain":[-7.857,77.857],"nice":false,"zero":false},
   "axis":{"orient":"right","values":[0,5,10,15,20,25,30,35,40,45,50,55,60,65,70,75],"grid":false,"domain":false,"ticks":false,"labelFont":"Liberation Sans","labelFontSize":10,"labelColor":"#000000","labelPadding":20,"labelOffset":3,"labelOverlap":false,"labelFlush":false,"title":null}},
  "color":{"field":"s","type":"nominal","legend":null}
 }},
{"data":{"name":"ctrl"},"mark":{"type":"line","strokeWidth":3,"color":"#0000ff"},"encoding":{"x":{"field":"h","type":"quantitative"},"y":{"field":"p","type":"quantitative","scale":{"domain":[-7.857,77.857],"nice":false,"zero":false},"axis":null}}},
{"data":{"name":"gfs"},"mark":{"type":"line","strokeWidth":3,"color":"#000000"},"encoding":{"x":{"field":"h","type":"quantitative"},"y":{"field":"p","type":"quantitative","scale":{"domain":[-7.857,77.857],"nice":false,"zero":false},"axis":null}}},
{"data":{"name":"mean"},"mark":{"type":"line","strokeWidth":4.5,"color":"#ff0000"},"encoding":{"x":{"field":"h","type":"quantitative"},"y":{"field":"p","type":"quantitative","scale":{"domain":[-7.857,77.857],"nice":false,"zero":false},"axis":null}}},
{"data":{"name":"snow"},"mark":{"type":"bar","size":8,"color":"#c4ffff"},"encoding":{
  "x":{"field":"h","type":"quantitative"},
  "y":{"field":"f","type":"quantitative","stack":null,"scale":{"domain":[0,1],"range":[575,559],"nice":false},"axis":null}}},
{"data":{"name":"snow"},"mark":{"type":"text","color":"#0000ff","fontSize":8.5,"font":"DejaVu Sans Mono","angle":270,"align":"left","baseline":"middle"},"encoding":{
  "x":{"field":"h","type":"quantitative"},"y":{"value":581},"text":{"field":"f","type":"quantitative","format":".0%"}}},
{"data":{"name":"snow"},"mark":{"type":"point","shape":"circle","filled":true,"size":85,"color":"#8ec9f2","opacity":1},"encoding":{
  "x":{"field":"h","type":"quantitative"},"y":{"value":588}}},
{"data":{"name":"snow"},"mark":{"type":"text","text":"❄","color":"#ffffff","fontSize":8,"font":"DejaVu Sans","align":"center","baseline":"middle"},"encoding":{
  "x":{"field":"h","type":"quantitative"},"y":{"value":588.5}}},
{
"data":{"values":[{}]},
"layer":[
{"mark":{"type":"rect","color":"#008080"},"encoding":{"x":{"value":420},"x2":{"value":430},"y":{"value":650},"y2":{"value":656}}},
{"mark":{"type":"rect","color":"#c0c000"},"encoding":{"x":{"value":431},"x2":{"value":441},"y":{"value":650},"y2":{"value":656}}},
{"mark":{"type":"rect","color":"#008000"},"encoding":{"x":{"value":442},"x2":{"value":452},"y":{"value":650},"y2":{"value":656}}},
{"mark":{"type":"rect","color":"#ff8000"},"encoding":{"x":{"value":453},"x2":{"value":463},"y":{"value":650},"y2":{"value":656}}},
{"mark":{"type":"rect","color":"#00ff00"},"encoding":{"x":{"value":464},"x2":{"value":474},"y":{"value":650},"y2":{"value":656}}},
{"mark":{"type":"rect","color":"#800080"},"encoding":{"x":{"value":475},"x2":{"value":485},"y":{"value":650},"y2":{"value":656}}},
{"mark":{"type":"rect","color":"#00ff80"},"encoding":{"x":{"value":486},"x2":{"value":496},"y":{"value":650},"y2":{"value":656}}},
{"mark":{"type":"rect","color":"#ff00ff"},"encoding":{"x":{"value":497},"x2":{"value":507},"y":{"value":650},"y2":{"value":656}}},
{"mark":{"type":"rect","color":"#80ff00"},"encoding":{"x":{"value":508},"x2":{"value":518},"y":{"value":650},"y2":{"value":656}}},
{"mark":{"type":"rect","color":"#0080ff"},"encoding":{"x":{"value":519},"x2":{"value":529},"y":{"value":650},"y2":{"value":656}}},
{"mark":{"type":"rect","color":"#8080ff"},"encoding":{"x":{"value":530},"x2":{"value":540},"y":{"value":650},"y2":{"value":656}}},
{"mark":{"type":"rect","color":"#80ff80"},"encoding":{"x":{"value":541},"x2":{"value":551},"y":{"value":650},"y2":{"value":656}}},
{"mark":{"type":"rect","color":"#8888ff"},"encoding":{"x":{"value":552},"x2":{"value":562},"y":{"value":650},"y2":{"value":656}}},
{"mark":{"type":"rect","color":"#e0b040"},"encoding":{"x":{"value":563},"x2":{"value":573},"y":{"value":650},"y2":{"value":656}}},
{"mark":{"type":"rect","color":"#80a800"},"encoding":{"x":{"value":574},"x2":{"value":584},"y":{"value":650},"y2":{"value":656}}},
{"mark":{"type":"rect","color":"#006080"},"encoding":{"x":{"value":585},"x2":{"value":595},"y":{"value":650},"y2":{"value":656}}},
{"mark":{"type":"rect","color":"#507080"},"encoding":{"x":{"value":596},"x2":{"value":606},"y":{"value":650},"y2":{"value":656}}},
{"mark":{"type":"rect","color":"#806870"},"encoding":{"x":{"value":607},"x2":{"value":617},"y":{"value":650},"y2":{"value":656}}},
{"mark":{"type":"rect","color":"#c0c0c0"},"encoding":{"x":{"value":618},"x2":{"value":628},"y":{"value":650},"y2":{"value":656}}},
{"mark":{"type":"rect","color":"#888888"},"encoding":{"x":{"value":629},"x2":{"value":639},"y":{"value":650},"y2":{"value":656}}},
{"mark":{"type":"text","text":"01","fontSize":7.5,"fontWeight":"bold","align":"center","baseline":"middle","color":"#000000"},"encoding":{"x":{"value":425},"y":{"value":644}}},
{"mark":{"type":"text","text":"02","fontSize":7.5,"fontWeight":"bold","align":"center","baseline":"middle","color":"#000000"},"encoding":{"x":{"value":436},"y":{"value":644}}},
{"mark":{"type":"text","text":"03","fontSize":7.5,"fontWeight":"bold","align":"center","baseline":"middle","color":"#000000"},"encoding":{"x":{"value":447},"y":{"value":644}}},
{"mark":{"type":"text","text":"04","fontSize":7.5,"fontWeight":"bold","align":"center","baseline":"middle","color":"#000000"},"encoding":{"x":{"value":458},"y":{"value":644}}},
{"mark":{"type":"text","text":"05","fontSize":7.5,"fontWeight":"bold","align":"center","baseline":"middle","color":"#000000"},"encoding":{"x":{"value":469},"y":{"value":644}}},
{"mark":{"type":"text","text":"06","fontSize":7.5,"fontWeight":"bold","align":"center","baseline":"middle","color":"#000000"},"encoding":{"x":{"value":480},"y":{"value":644}}},
{"mark":{"type":"text","text":"07","fontSize":7.5,"fontWeight":"bold","align":"center","baseline":"middle","color":"#000000"},"encoding":{"x":{"value":491},"y":{"value":644}}},
{"mark":{"type":"text","text":"08","fontSize":7.5,"fontWeight":"bold","align":"center","baseline":"middle","color":"#000000"},"encoding":{"x":{"value":502},"y":{"value":644}}},
{"mark":{"type":"text","text":"09","fontSize":7.5,"fontWeight":"bold","align":"center","baseline":"middle","color":"#000000"},"encoding":{"x":{"value":513},"y":{"value":644}}},
{"mark":{"type":"text","text":"10","fontSize":7.5,"fontWeight":"bold","align":"center","baseline":"middle","color":"#000000"},"encoding":{"x":{"value":524},"y":{"value":644}}},
{"mark":{"type":"text","text":"11","fontSize":7.5,"fontWeight":"bold","align":"center","baseline":"middle","color":"#000000"},"encoding":{"x":{"value":535},"y":{"value":644}}},
{"mark":{"type":"text","text":"12","fontSize":7.5,"fontWeight":"bold","align":"center","baseline":"middle","color":"#000000"},"encoding":{"x":{"value":546},"y":{"value":644}}},
{"mark":{"type":"text","text":"13","fontSize":7.5,"fontWeight":"bold","align":"center","baseline":"middle","color":"#000000"},"encoding":{"x":{"value":557},"y":{"value":644}}},
{"mark":{"type":"text","text":"14","fontSize":7.5,"fontWeight":"bold","align":"center","baseline":"middle","color":"#000000"},"encoding":{"x":{"value":568},"y":{"value":644}}},
{"mark":{"type":"text","text":"15","fontSize":7.5,"fontWeight":"bold","align":"center","baseline":"middle","color":"#000000"},"encoding":{"x":{"value":579},"y":{"value":644}}},
{"mark":{"type":"text","text":"16","fontSize":7.5,"fontWeight":"bold","align":"center","baseline":"middle","color":"#000000"},"encoding":{"x":{"value":590},"y":{"value":644}}},
{"mark":{"type":"text","text":"17","fontSize":7.5,"fontWeight":"bold","align":"center","baseline":"middle","color":"#000000"},"encoding":{"x":{"value":601},"y":{"value":644}}},
{"mark":{"type":"text","text":"18","fontSize":7.5,"fontWeight":"bold","align":"center","baseline":"middle","color":"#000000"},"encoding":{"x":{"value":612},"y":{"value":644}}},
{"mark":{"type":"text","text":"19","fontSize":7.5,"fontWeight":"bold","align":"center","baseline":"middle","color":"#000000"},"encoding":{"x":{"value":623},"y":{"value":644}}},
{"mark":{"type":"text","text":"20","fontSize":7.5,"fontWeight":"bold","align":"center","baseline":"middle","color":"#000000"},"encoding":{"x":{"value":634},"y":{"value":644}}},
{"mark":{"type":"text","text":"(°C)","fontSize":10,"align":"center","baseline":"middle","color":"#000000"},"encoding":{"x":{"value":-19},"y":{"value":607}}},
{"mark":{"type":"text","text":"(mm)","fontSize":10,"align":"center","baseline":"middle","color":"#000000"},"encoding":{"x":{"value":631},"y":{"value":607}}},
{"mark":{"type":"text","text":"Précipitations","fontSize":10,"align":"left","baseline":"middle","color":"#000000"},"encoding":{"x":{"value":10},"y":{"value":537}}},
{"mark":{"type":"rule","color":"#ff0000","strokeWidth":4},"encoding":{"x":{"value":-15},"x2":{"value":15},"y":{"value":652}}},
{"mark":{"type":"text","text":"Moyenne des scénarios","fontSize":10,"align":"left","baseline":"middle","color":"#000000"},"encoding":{"x":{"value":25},"y":{"value":652}}},
{"mark":{"type":"rule","color":"#0000ff","strokeWidth":4},"encoding":{"x":{"value":175},"x2":{"value":205},"y":{"value":636.5}}},
{"mark":{"type":"text","text":"Run de contrôle","fontSize":10,"align":"left","baseline":"middle","color":"#000000"},"encoding":{"x":{"value":214},"y":{"value":637}}},
{"mark":{"type":"rule","color":"#000000","strokeWidth":4},"encoding":{"x":{"value":175},"x2":{"value":205},"y":{"value":646.5}}},
{"mark":{"type":"text","text":"Run GFS","fontSize":10,"align":"left","baseline":"middle","color":"#000000"},"encoding":{"x":{"value":214},"y":{"value":647}}},
{"mark":{"type":"text","text":"20 Perturbations","fontSize":10,"align":"left","baseline":"middle","color":"#000000"},"encoding":{"x":{"value":320},"y":{"value":652}}},
{"mark":{"type":"rect","fillOpacity":0,"stroke":"#000000","strokeWidth":1.5},"encoding":{"x":{"value":-30},"x2":{"value":390},"y":{"value":667},"y2":{"value":699}}},
{"mark":{"type":"text","text":"Diagramme des ensembles GEFS sur 180h : 51N 3.1E","fontSize":11.5,"fontWeight":"bold","align":"left","baseline":"middle","color":"#000000"},"encoding":{"x":{"value":-20},"y":{"value":677}}},
{"mark":{"type":"text","text":"Température 2m (°C) , précipitations (mm)","fontSize":10,"align":"left","baseline":"middle","color":"#000000"},"encoding":{"x":{"value":-20},"y":{"value":692}}},
{"mark":{"type":"text","text":"Ensemble GEFS du 01/02/2012 - 12h","fontSize":10,"align":"left","baseline":"middle","color":"#000000"},"encoding":{"x":{"value":399},"y":{"value":672}}},
{"mark":{"type":"text","text":"Copyright 2012 Meteociel.fr","fontSize":11.5,"fontWeight":"bold","align":"left","baseline":"middle","color":"#000000"},"encoding":{"x":{"value":399},"y":{"value":692}}}
]
}
],
"resolve":{"scale":{"y":"independent"}}
}
